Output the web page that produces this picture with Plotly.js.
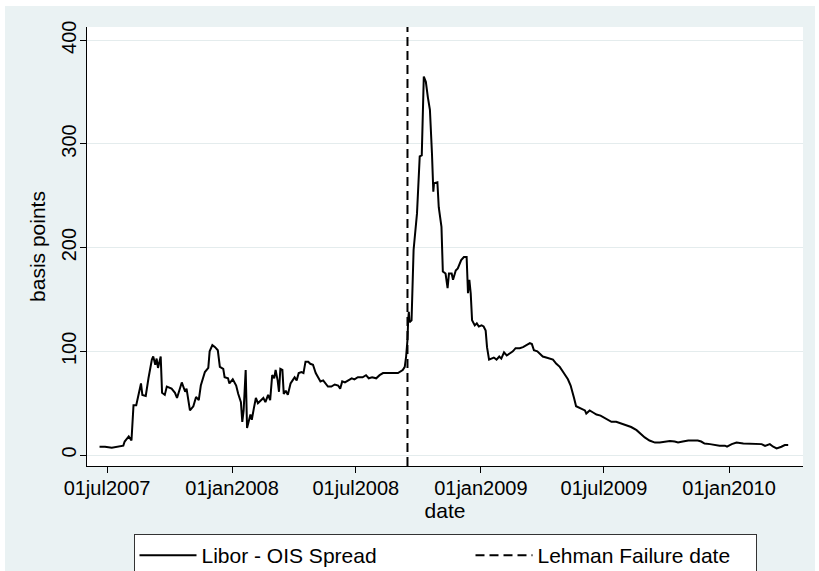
<!DOCTYPE html>
<html>
<head>
<meta charset="utf-8">
<script src="https://cdn.plot.ly/plotly-3.0.1.min.js"></script>
<style>
  html, body { margin: 0; padding: 0; background: #ffffff; overflow: hidden; }
  #chart { position: absolute; left: 5px; top: 6px; width: 810px; height: 590px; }
</style>
</head>
<body>
<div id="chart"></div>
<script>
// Libor - OIS spread (basis points)
const dates = [
  '2007-06-20','2007-06-28','2007-07-08','2007-07-17','2007-07-25','2007-07-27','2007-08-02','2007-08-06','2007-08-09','2007-08-13',
  '2007-08-17','2007-08-20','2007-08-22','2007-08-27','2007-08-31','2007-09-05','2007-09-07','2007-09-10','2007-09-12','2007-09-14',
  '2007-09-18','2007-09-20','2007-09-24','2007-09-27','2007-10-04','2007-10-09','2007-10-12','2007-10-19','2007-10-24','2007-10-26',
  '2007-10-31','2007-11-05','2007-11-09','2007-11-13','2007-11-16','2007-11-22','2007-11-27','2007-11-29','2007-12-03','2007-12-07',
  '2007-12-11','2007-12-14','2007-12-19','2007-12-21','2007-12-26','2007-12-28','2008-01-02','2008-01-07','2008-01-10','2008-01-14',
  '2008-01-16','2008-01-18','2008-01-21','2008-01-23','2008-01-28','2008-01-30','2008-02-02','2008-02-05','2008-02-08','2008-02-13',
  '2008-02-16','2008-02-19','2008-02-23','2008-02-26','2008-02-29','2008-03-03','2008-03-05','2008-03-08','2008-03-10','2008-03-12',
  '2008-03-15','2008-03-17','2008-03-20','2008-03-23','2008-03-27','2008-03-30','2008-04-02','2008-04-05','2008-04-08','2008-04-12',
  '2008-04-15','2008-04-18','2008-04-22','2008-04-25','2008-04-29','2008-05-03','2008-05-06','2008-05-10','2008-05-14','2008-05-18',
  '2008-05-21','2008-05-26','2008-05-31','2008-06-05','2008-06-08','2008-06-11','2008-06-15','2008-06-20','2008-06-25','2008-06-29',
  '2008-07-04','2008-07-11','2008-07-16','2008-07-20','2008-07-25','2008-07-31','2008-08-05','2008-08-10','2008-08-17','2008-08-25',
  '2008-09-01','2008-09-08','2008-09-11','2008-09-13','2008-09-15','2008-09-16','2008-09-17','2008-09-18','2008-09-21','2008-09-24',
  '2008-09-27','2008-09-29','2008-10-03','2008-10-06','2008-10-09','2008-10-12','2008-10-15','2008-10-18','2008-10-21','2008-10-23',
  '2008-10-24','2008-10-29','2008-10-31','2008-11-04','2008-11-06','2008-11-10','2008-11-13','2008-11-15','2008-11-19','2008-11-21',
  '2008-11-25','2008-11-28','2008-12-03','2008-12-07','2008-12-11','2008-12-13','2008-12-15','2008-12-17','2008-12-19','2008-12-23',
  '2008-12-26','2008-12-29','2009-01-02','2009-01-05','2009-01-08','2009-01-10','2009-01-13','2009-01-16','2009-01-20','2009-01-24',
  '2009-01-28','2009-01-31','2009-02-04','2009-02-08','2009-02-12','2009-02-17','2009-02-21','2009-02-27','2009-03-04','2009-03-09',
  '2009-03-14','2009-03-17','2009-03-20','2009-03-25','2009-03-29','2009-04-02','2009-04-07','2009-04-12','2009-04-17','2009-04-22',
  '2009-04-27','2009-05-02','2009-05-06','2009-05-09','2009-05-13','2009-05-16','2009-05-18','2009-05-21','2009-05-24','2009-05-29',
  '2009-06-03','2009-06-05','2009-06-10','2009-06-15','2009-06-20','2009-06-26','2009-07-02','2009-07-07','2009-07-12','2009-07-19',
  '2009-07-27','2009-08-03','2009-08-10','2009-08-18','2009-08-23','2009-08-30','2009-09-06','2009-09-14','2009-09-21','2009-09-28',
  '2009-10-06','2009-10-13','2009-10-18','2009-10-25','2009-11-02','2009-11-09','2009-11-16','2009-11-21','2009-11-26','2009-12-04',
  '2009-12-11','2009-12-18','2009-12-26','2009-12-29','2010-01-05','2010-01-12','2010-01-22','2010-01-31','2010-02-10','2010-02-18',
  '2010-02-23','2010-03-02','2010-03-07','2010-03-12','2010-03-19','2010-03-24','2010-03-29'
];
const spread = [
  8, 8, 7, 8, 9, 13, 18, 14, 48, 48,
  61, 69, 58, 57, 74, 92, 95, 87, 93, 84,
  95, 60, 58, 66, 64, 60, 55, 70, 61, 64,
  43, 47, 56, 53, 67, 80, 84, 100, 106, 104,
  101, 85, 83, 75, 74, 69, 73, 67, 59, 51,
  32, 43, 82, 26, 39, 34, 45, 55, 50, 53,
  55, 51, 58, 53, 77, 74, 82, 72, 61, 83,
  82, 59, 62, 58, 69, 72, 75, 72, 79, 80,
  79, 90, 90, 88, 87, 79, 75, 71, 72, 69,
  66, 66, 68, 67, 64, 71, 70, 72, 74, 73,
  75, 75, 77, 74, 75, 74, 77, 79, 79, 79,
  79, 82, 85, 95, 111, 130, 138, 128, 130, 198,
  217, 233, 288, 289, 365, 360, 345, 333, 291, 254,
  262, 263, 239, 220, 177, 175, 161, 175, 175, 169,
  178, 180, 188, 191, 191, 156, 169, 156, 130, 125,
  127, 124, 125, 124, 120, 104, 92, 93, 94, 92,
  95, 93, 99, 96, 98, 100, 103, 103, 104, 106,
  108, 107, 101, 100, 97, 95, 94, 93, 92, 88,
  85, 80, 76, 73, 67, 61, 55, 47, 46, 45,
  43, 40, 43, 41, 39, 38, 36, 34, 32, 32,
  30, 28, 27, 24, 21, 17, 14, 12, 12, 13,
  13.5, 13, 12, 13, 14, 14, 14, 13, 11, 10.5,
  9.6, 9, 9, 8, 10.5, 12, 11, 11, 10.5, 10.5,
  8.7, 10.5, 8, 6.4, 8, 9.6, 9.6
];
const lehmanDate = '2008-09-15';
const yRange = [-10.6, 412.8];
const xRange = ['2007-06-01 14:00', '2010-04-19 19:00'];
const xTickVals = ['2007-07-01', '2008-01-01', '2008-07-01', '2009-01-01', '2009-07-01', '2010-01-01'];
const xTickText = ['01jul2007', '01jan2008', '01jul2008', '01jan2009', '01jul2009', '01jan2010'];
const yTickVals = [0, 100, 200, 300, 400];
const seriesNames = ['Libor - OIS Spread', 'Lehman Failure date'];

const FONT = 'Liberation Sans, Arial, Helvetica, sans-serif';
const BG = '#eaf2f3';
const GRID = '#e4eced';

const traces = [
  {
    x: dates, y: spread, type: 'scatter', mode: 'lines', name: seriesNames[0],
    line: { color: '#000000', width: 2 }, hoverinfo: 'skip', legendwidth: 264
  },
  {
    x: [lehmanDate, lehmanDate], y: yRange, type: 'scatter', mode: 'lines', name: seriesNames[1],
    line: { color: '#000000', width: 2, dash: '9px,5px' }, hoverinfo: 'skip', legendwidth: 213
  }
];

const layout = {
  width: 810, height: 590,
  paper_bgcolor: BG, plot_bgcolor: '#ffffff',
  margin: { l: 82, r: 12, t: 21, b: 130, pad: 0 },
  font: { family: FONT, size: 20, color: '#000000' },
  showlegend: true,
  xaxis: {
    type: 'date', range: xRange, tickmode: 'array', tickvals: xTickVals, ticktext: xTickText,
    showgrid: false, zeroline: false, showline: true, linecolor: '#000000', linewidth: 1,
    ticks: 'outside', ticklen: 6, tickwidth: 1, tickcolor: '#000000',
    ticklabelstandoff: -2,
    tickfont: { family: FONT, size: 20, color: '#000000' },
    title: { text: 'date', font: { family: FONT, size: 21, color: '#000000' }, standoff: 3 },
    fixedrange: true
  },
  yaxis: {
    range: yRange, tickmode: 'array', tickvals: yTickVals, tickangle: -90,
    showgrid: true, gridcolor: GRID, gridwidth: 1, zeroline: false,
    showline: true, linecolor: '#000000', linewidth: 1,
    ticks: 'outside', ticklen: 6, tickwidth: 1, tickcolor: '#000000',
    ticklabelstandoff: -4,
    tickfont: { family: FONT, size: 20, color: '#000000' },
    title: { text: 'basis points', font: { family: FONT, size: 21, color: '#000000' }, standoff: 6 },
    fixedrange: true
  },
  legend: {
    orientation: 'h', x: 0.5, xanchor: 'center', y: -0.155, yanchor: 'top',
    bgcolor: '#ffffff', bordercolor: '#333333', borderwidth: 1,
    font: { family: FONT, size: 21, color: '#000000' },
    itemwidth: 57, traceorder: 'normal'
  }
};

Plotly.newPlot('chart', traces, layout, { displayModeBar: false, staticPlot: true });
</script>
</body>
</html>
